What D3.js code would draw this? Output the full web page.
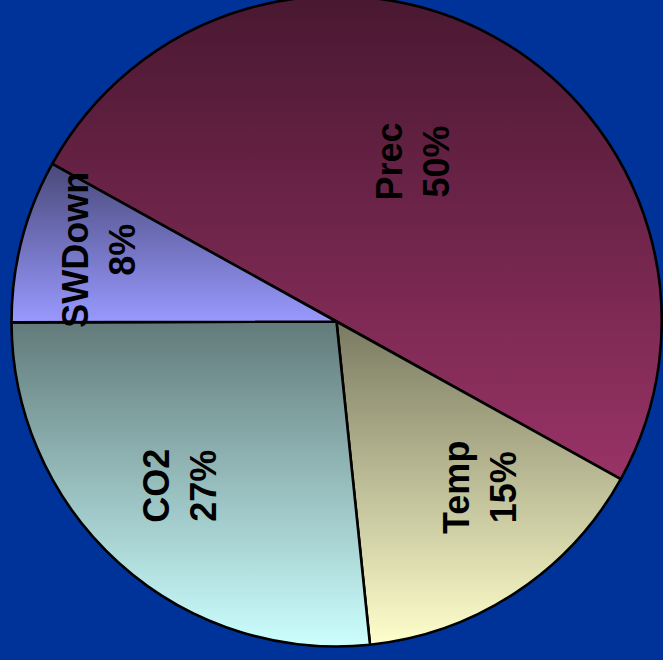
<!DOCTYPE html>
<html>
<head>
<meta charset="utf-8">
<script src="https://cdn.jsdelivr.net/npm/d3@7"></script>
<style>
  html, body { margin: 0; padding: 0; background: #003399; overflow: hidden; }
  svg { display: block; }
</style>
</head>
<body>
<svg id="chart" width="663" height="660"></svg>
<script>
// ---- data ----
const categories = ["Prec", "Temp", "CO2", "SWDown"];
const values = [50.0, 15.3, 26.6, 8.1];
const colors = ["#993366", "#ffffcc", "#ccffff", "#9999ff"];

// ---- layout (not data) ----
const W = 663, H = 660;
const cx = 336.5, cy = 321.5, R = 325;
const startDeg = -61;
const labelRadius = 0.7 * R;
const labelNudge = { Prec: [-33, 39], Temp: [19, -24], CO2: [-3, -5], SWDown: [-16, -15] };

const svg = d3.select("#chart");
svg.append("rect").attr("width", W).attr("height", H).attr("fill", "#003399");

const defs = svg.append("defs");
colors.forEach((c, i) => {
  const g = defs.append("linearGradient")
    .attr("id", "grad" + i)
    .attr("x1", 0).attr("y1", 0).attr("x2", 0).attr("y2", 1);
  g.append("stop").attr("offset", "0%").attr("stop-color", d3.interpolateRgb(c, "#000")(0.52));
  g.append("stop").attr("offset", "100%").attr("stop-color", c);
});

const total = d3.sum(values);
const pie = d3.pie().sort(null).value(d => d.v)
  .startAngle(startDeg * Math.PI / 180)
  .endAngle(startDeg * Math.PI / 180 + 2 * Math.PI);
const arcs = pie(categories.map((k, i) => ({ k, v: values[i], i })));

const arc = d3.arc().innerRadius(0).outerRadius(R);
const labelArc = d3.arc().innerRadius(labelRadius).outerRadius(labelRadius);

const g = svg.append("g").attr("transform", `translate(${cx},${cy})`);

g.selectAll("path.slice").data(arcs).join("path")
  .attr("class", "slice")
  .attr("d", arc)
  .attr("fill", d => `url(#grad${d.data.i})`)
  .attr("stroke", "#000")
  .attr("stroke-width", 2.6)
  .attr("stroke-linejoin", "round");

const labels = g.selectAll("g.lbl").data(arcs).join("g")
  .attr("class", "lbl")
  .attr("transform", d => {
    const [x, y] = labelArc.centroid(d);
    const n = labelNudge[d.data.k] || [0, 0];
    return `translate(${x + n[0]},${y + n[1]}) rotate(-90)`;
  });

const txt = labels.append("text")
  .attr("text-anchor", "middle")
  .attr("font-family", "'Liberation Sans', Arial, Helvetica, sans-serif")
  .attr("font-weight", "bold")
  .attr("font-size", 36)
  .attr("fill", "#000");
txt.append("tspan").attr("x", 0).attr("y", -12).text(d => d.data.k);
txt.append("tspan").attr("x", 0).attr("y", 35)
  .text(d => Math.round(d.data.v / total * 100) + "%");
</script>
</body>
</html>
